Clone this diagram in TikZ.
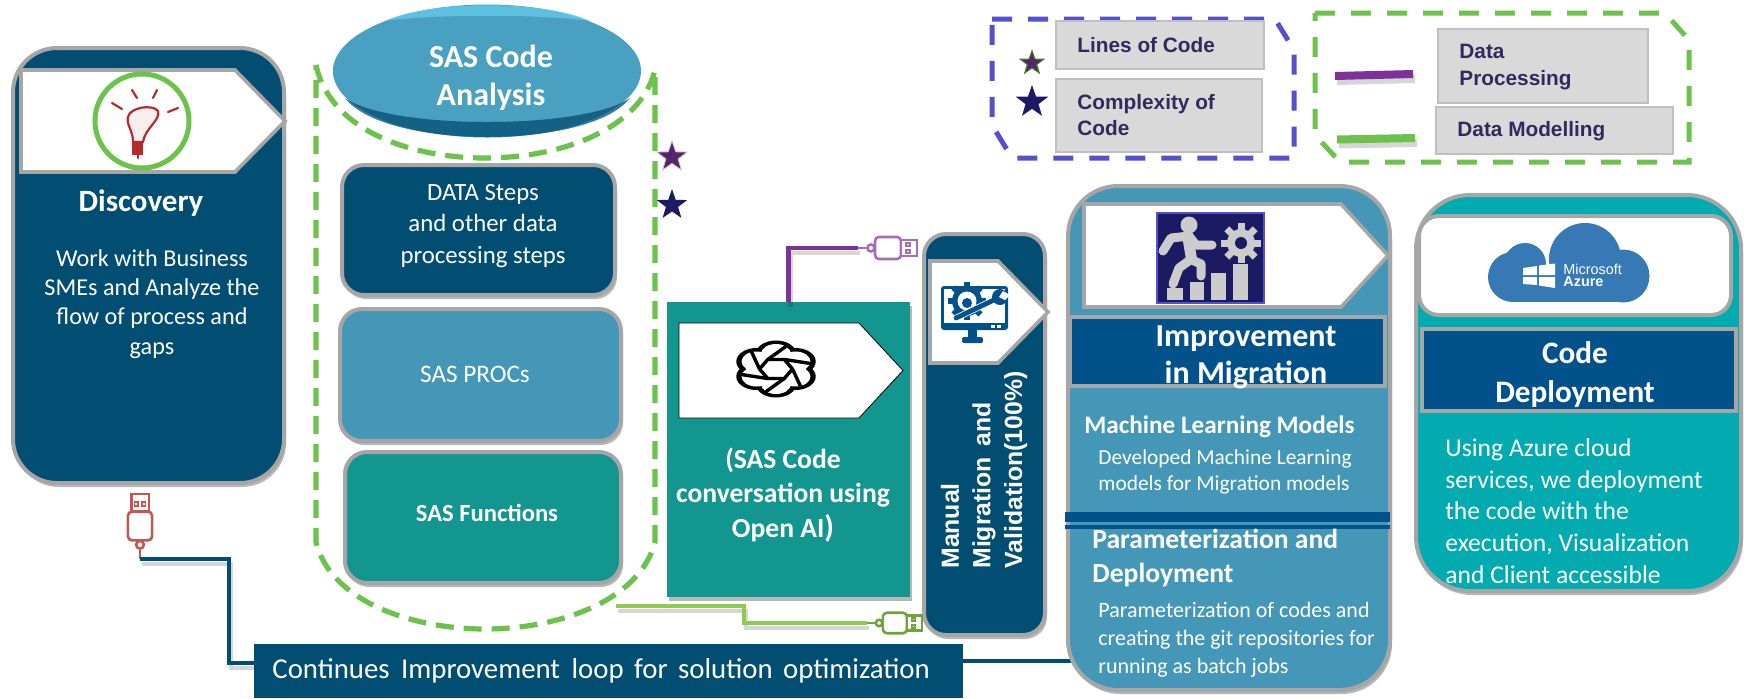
\documentclass[tikz,border=0pt]{standalone}
\usepackage{fontspec}
\setmainfont{Carlito}
\newfontfamily\arialf{Liberation Sans}
\usetikzlibrary{shapes.geometric,shadows,calc}
\definecolor{navy}{HTML}{014E72}
\definecolor{boxblue}{HTML}{4597B8}
\definecolor{ovalblue}{HTML}{4AA0C0}
\definecolor{ovallight}{HTML}{62C6E6}
\definecolor{tealc}{HTML}{13968F}
\definecolor{titleblue}{HTML}{01528A}
\definecolor{cyanc}{HTML}{02ABB0}
\definecolor{edgegray}{HTML}{A6A6A6}
\definecolor{dashgreen}{HTML}{6CC24A}
\definecolor{dashblue}{HTML}{5550D0}
\definecolor{linepurple}{HTML}{7E309B}
\definecolor{linegreen}{HTML}{8CCC4E}
\definecolor{legendtxt}{HTML}{322A5E}
\definecolor{starnavy}{HTML}{1C1A63}
\definecolor{azure}{HTML}{3679B5}
\definecolor{bulbred}{HTML}{B52A2A}
\pgfdeclareradialshading{ovalshade}{\pgfpoint{0bp}{0bp}}{color(0bp)=(ovalblue);color(28bp)=(ovalblue);color(33bp)=(navy!60!boxblue);color(35.5bp)=(navy!90!black);color(50bp)=(navy!90!black)}
\newcommand{\pbox}[6]{%
  \pgfmathsetmacro{\pw}{(#4-#2)*0.5}\pgfmathsetmacro{\ph}{(#5-#3)*0.5}%
  \node[#6,anchor=north west,minimum width=\pw pt,minimum height=\ph pt,inner sep=0pt,outer sep=0pt] (#1) at (#2,#3) {};}
\newcommand{\ptag}[6]{%
  \pgfmathsetmacro{\pm}{(#2+#4)/2}%
  \draw[#6] (#1,#2) -- (#3,#2) -- (#5,\pm) -- (#3,#4) -- (#1,#4) -- cycle;}
\newcommand{\usbicon}[5]{%
  \begin{scope}[shift={(#1,#2)},rotate=#3,scale=#5,draw=#4,line width=1.3pt,fill=white]
    \draw (0,0) -- (10,0);
    \draw[fill=white] (13,0) circle[radius=3.5];
    \draw[fill=white,rounded corners=2pt] (17,-11) rectangle (43,11);
    \draw[fill=white] (43,-8) rectangle (59,8);
    \draw[line width=.9pt] (48,-5) rectangle (52,-2);
    \draw[line width=.9pt] (48,2) rectangle (52,5);
  \end{scope}}
\tikzset{
  x=0.5pt,y=-0.5pt,
  softshadow/.style={drop shadow={shadow xshift=1pt,shadow yshift=-2pt,opacity=.28,fill=black}},
  panel/.style={rectangle,draw=edgegray,line width=2pt,rounded corners=#1},
  panel/.default=11pt,
  tagshape/.style={fill=white,draw=edgegray,line width=1.8pt,line join=miter},
  tagplain/.style={fill=white},
  legendbox/.style={rectangle,fill=black!15,draw=black!25,line width=1pt},
  legendtext/.style={font=\arialf\bfseries\fontsize{10.4pt}{12.8pt}\selectfont,text=legendtxt,align=left,anchor=west,inner sep=0pt},
  whitetext/.style={text=white,align=center,inner sep=0pt},
  leftwhite/.style={text=white,align=left,anchor=west,inner sep=0pt},
  startoken/.style={star,star points=5,star point ratio=2.5,inner sep=0pt},
  canline/.style={draw=dashgreen,line width=2.6pt,dash pattern=on 9pt off 5pt},
  legenddash/.style={line width=2.5pt,dash pattern=on 10pt off 8pt},
  flowline/.style={line width=2.4pt,line join=miter},
  lineshadow/.style={draw=black,opacity=.16,line join=miter,transform canvas={xshift=1pt,yshift=-2.5pt}},
  thinloop/.style={draw=navy,line width=1.8pt,line join=miter},
}
\begin{document}
\begin{tikzpicture}
\useasboundingbox (0,0) rectangle (1750,698);
\fill[white] (0,0) rectangle (1750,698);

% bar and main panels
\pbox{bar}{254}{644}{963}{698}{fill=navy,rectangle}
\node[text=white,anchor=west,inner sep=0pt,font=\fontsize{14.4pt}{16pt}\selectfont] (bartext) at (272,671) {Continues\hspace{2.5pt} Improvement\hspace{2.5pt} loop\hspace{2pt} for\hspace{2pt} solution\hspace{2pt} optimization};

% Discovery
\pbox{disc}{13}{48}{284}{483}{panel=22pt,fill=navy,softshadow}
\ptag{21}{70}{235}{172}{285}{tagshape}
\node[circle,draw=dashgreen,line width=2.5pt,fill=white,minimum size=47pt,inner sep=0pt] (bulbring) at (142,121) {};
\begin{scope}[bulbred,line width=1.1pt,line cap=round]
  \draw (132,90) -- (137,98);
  \draw (157,90) -- (153,98);
  \draw (112,103) -- (122,109);
  \draw (168,112) -- (178,108);
  \draw[fill=bulbred!8] (133,142) .. controls (133,130) and (126,125) .. (128,117) .. controls (130,107) and (153,104) .. (158,111) .. controls (161,120) and (145,128) .. (143,142) -- cycle;
  \fill (132,142) rectangle (143,155);
  \draw[line width=1.4pt] (138,155) -- (138,158);
\end{scope}
\node[whitetext,font=\bfseries\fontsize{15.5pt}{18pt}\selectfont] (disctitle) at (141,203) {Discovery};
\node[whitetext,font=\fontsize{12.1pt}{14.6pt}\selectfont] (discbody) at (152,304) {Work with Business\\SMEs and Analyze the\\flow of process and\\gaps};

% SAS code analysis can
\draw[canline] (316,65) .. controls (330,130) and (410,158) .. (485,158) .. controls (560,158) and (640,130) .. (655,70) -- (655,542) .. controls (640,600) and (560,629) .. (485,629) .. controls (410,629) and (330,600) .. (316,542) -- cycle;
\coordinate (cangreen) at (616,606);
\node[ellipse,minimum width=154pt,minimum height=66.5pt,inner sep=0pt,shading=ovalshade] (oval) at (487,71) {};
\fill[ovallight,opacity=.85] (385,21) .. controls (430,0) and (545,0) .. (590,21) .. controls (545,14) and (430,14) .. (385,21) -- cycle;
\fill[navy,opacity=.75] (345,98) .. controls (385,150) and (590,150) .. (630,98) .. controls (585,130) and (390,130) .. (345,98) -- cycle;
\node[whitetext,font=\bfseries\fontsize{16pt}{19pt}\selectfont] (ovaltext) at (491,78) {SAS Code\\Analysis};
\pbox{dstep}{342}{165}{615}{295}{panel,fill=navy,softshadow}
\node[whitetext,font=\fontsize{12.4pt}{15.6pt}\selectfont] (dsteptext) at (483,226) {DATA Steps\\and other data\\processing steps};
\pbox{procs}{340}{309}{621}{441}{panel,fill=boxblue,softshadow}
\node[whitetext,font=\fontsize{12.6pt}{15pt}\selectfont] (procstext) at (475,374) {SAS PROCs};
\pbox{funcs}{345}{452}{621}{583}{panel,fill=tealc,softshadow}
\node[whitetext,font=\bfseries\fontsize{12.3pt}{15pt}\selectfont] (funcstext) at (487,513) {SAS Functions};
\node[startoken,fill=linepurple!70!black,draw=black!20,line width=.4pt,minimum size=16pt] (starA) at (672,157) {};
\node[startoken,fill=starnavy,minimum size=16pt] (starB) at (672,205) {};

% OpenAI panel
\pbox{openai}{667}{302}{910}{597}{rectangle,fill=tealc,softshadow}
\ptag{679}{323}{859}{418}{903}{tagplain}
\begin{scope}[shift={(776,369)},xscale=1.5]
  \foreach \ang in {30,90,...,330}
    \fill[black] (\ang:15) circle[radius=13.5];
  \foreach \ang in {30,90,...,330}
    \fill[white] (\ang:15) circle[radius=10];
  \fill[white] (0,0) circle[radius=15];
  \draw[black,line width=1.7pt,line join=round] (0:11) -- (60:11) -- (120:11) -- (180:11) -- (240:11) -- (300:11) -- cycle;
  \foreach \ang in {0,60,...,300}
    \draw[black,line width=1.7pt] (\ang:11) -- (\ang+48:25);
\end{scope}
\node[whitetext,font=\bfseries\fontsize{13.8pt}{17.2pt}\selectfont] (openaitext) at (783,495) {(SAS Code\\conversation using\\Open AI{\fontsize{15.5pt}{15pt}\selectfont)}};

% Manual panel
\pbox{manual}{924}{234}{1045}{635}{panel,fill=navy,softshadow}
\ptag{930}{261}{998}{363}{1048}{tagshape}
\begin{scope}[titleblue]
  \fill[rounded corners=1.5pt] (941,286) rectangle (1008,330);
  \fill[white] (944,289) rectangle (1005,323);
  \fill[white] (991,325) rectangle (995,328);
  \fill[white] (997,325) rectangle (1001,328);
  \fill (968,330) rectangle (977,338);
  \fill[rounded corners=1pt] (962,337) rectangle (983,343);
  \foreach \a in {0,45,...,315}
    \fill[shift={(967,301)},rotate=\a] (13,-3) rectangle (19,3);
  \fill (967,301) circle[radius=15];
  \fill[white] (967,301) circle[radius=9.5];
  \fill (967,303) circle[radius=5];
  \draw[white,line width=3.2pt] (956,318) -- (998,298);
  \draw[line width=2.4pt,line cap=round] (956,318) -- (996,299);
  \fill (1000,297) circle[radius=8];
  \fill[white] (1003,291) -- (1010,295) -- (1005,300) -- (999,297) -- cycle;
\end{scope}
\node[text=white,rotate=90,anchor=west,align=left,inner sep=0pt,font=\arialf\bfseries\fontsize{12.4pt}{15.8pt}\selectfont] (manualtext) at (984,569) {Manual\\Migration\hspace{2pt} and\\Validation(100\%)};

% connectors
\coordinate (usbP) at (858,248);
\coordinate (usbG) at (867,623);
\coordinate (usbR) at (140,559);
\coordinate (gElbow) at (744,623);
\coordinate (loopElbow) at (229,559);
\draw[flowline,lineshadow] (openai.north) |- (usbP);
\draw[flowline,draw=linepurple] (openai.north) |- (usbP);
\usbicon{858}{248}{0}{linepurple!70!white}{1}
\draw[flowline,lineshadow] (cangreen) -| (gElbow) -- (usbG);
\draw[flowline,draw=linegreen] (cangreen) -| (gElbow) -- (usbG);
\usbicon{867}{623}{0}{linegreen!80!black}{.93}
\usbicon{140}{559}{90}{bulbred!80!white}{1.1}
\draw[line width=1.8pt,lineshadow] (usbR) -- (loopElbow) |- ([yshift=4pt]bar.west);
\draw[thinloop] (usbR) -- (loopElbow) |- ([yshift=4pt]bar.west);
\draw[thinloop] ([yshift=5pt]bar.east) -- ++(108,0) coordinate (loopEnd);

% Improvement panel
\pbox{imp}{1068}{186}{1390}{690}{panel=25pt,fill=boxblue,softshadow}
\ptag{1084}{204}{1341}{307}{1388}{tagshape}
\pbox{stepsicon}{1157}{213}{1264}{303}{rectangle,fill=starnavy,draw=dashblue,line width=1pt}
\begin{scope}[black!20]
  \fill (1189,225) circle[radius=8.5];
  \draw[line width=4.5pt,line cap=round,line join=round] (1163,251) -- (1171,238) -- (1189,236) -- (1196,245) -- (1212,245);
  \draw[line width=5.5pt,line join=round] (1188,238) -- (1192,262);
  \draw[line width=4.5pt,line cap=round,line join=round] (1190,260) -- (1179,268) -- (1173,284);
  \draw[line width=4.5pt,line cap=round,line join=round] (1192,260) -- (1201,264) -- (1201,276);
  \fill (1167,288) rectangle (1183,300);
  \fill (1190,282) rectangle (1204,300);
  \fill (1211,273) rectangle (1226,300);
  \fill (1233,264) rectangle (1248,300);
  \foreach \a in {0,45,...,315}
    \fill[shift={(1241,243)},rotate=\a] (12,-3.5) rectangle (20,3.5);
  \fill (1241,243) circle[radius=14];
  \fill[starnavy] (1241,243) circle[radius=6];
\end{scope}
\pbox{imptitle}{1070}{317}{1385}{386}{rectangle,fill=titleblue,draw=edgegray,line width=2pt}
\node[whitetext,font=\bfseries\fontsize{16pt}{18.5pt}\selectfont] (imptitletext) at (1246,357) {Improvement\\in Migration};
\node[leftwhite,font=\bfseries\fontsize{12.6pt}{15pt}\selectfont] (mlhead) at (1084,427) {Machine Learning Models};
\node[leftwhite,font=\fontsize{10.7pt}{13pt}\selectfont] (mlbody) at (1098,472) {Developed Machine Learning\\models for Migration models};
\pbox{bandA}{1065}{512}{1390}{522}{rectangle,fill=titleblue}
\pbox{bandB}{1065}{525}{1390}{529}{rectangle,fill=titleblue}
\node[leftwhite,font=\bfseries\fontsize{13.8pt}{17.2pt}\selectfont] (parhead) at (1092,558) {Parameterization and\\Deployment};
\node[leftwhite,font=\fontsize{11pt}{13.9pt}\selectfont] (parbody) at (1098,640) {Parameterization of codes and\\creating the git repositories for\\running as batch jobs};

% Deployment panel
\pbox{dep}{1416}{195}{1741}{591}{panel=27pt,fill=cyanc,softshadow}
\pbox{depwhite}{1419}{216}{1731}{315}{panel=10pt,fill=white}
\begin{scope}[azure]
  \fill (1513,277) circle[radius=25];
  \fill (1525,264) circle[radius=21];
  \fill (1585,259) circle[radius=36];
  \fill (1623,276) circle[radius=26.5];
  \fill (1513,270) rectangle (1625,302);
\end{scope}
\fill[white] (1523,268) -- (1537,266) -- (1537,275) -- (1523,275) -- cycle;
\fill[white] (1539,265.5) -- (1555,263.5) -- (1555,275) -- (1539,275) -- cycle;
\fill[white] (1523,277) -- (1537,277) -- (1537,285) -- (1523,284) -- cycle;
\fill[white] (1539,277) -- (1555,277) -- (1555,288) -- (1539,285.5) -- cycle;
\node[text=white,anchor=west,inner sep=0pt,font=\arialf\fontsize{7.2pt}{8pt}\selectfont] (mstext) at (1563,269) {Microsoft};
\node[text=white,anchor=west,inner sep=0pt,font=\arialf\bfseries\fontsize{7.2pt}{8pt}\selectfont] (aztext) at (1563,282) {Azure};
\pbox{deptitle}{1422}{329}{1736}{411}{rectangle,fill=titleblue,draw=edgegray,line width=2pt}
\node[whitetext,font=\bfseries\fontsize{15.6pt}{19.5pt}\selectfont] (deptitletext) at (1575,374) {Code\\Deployment};
\node[leftwhite,font=\fontsize{12.8pt}{15.8pt}\selectfont] (depbody) at (1445,511) {Using Azure cloud\\services, we deployment\\the code with the\\execution, Visualization\\and Client accessible};

% legends
\draw[legenddash,draw=dashblue] (992,19) -- (1275,19) -- (1294,50) -- (1294,158) -- (1012,158) -- (992,125) -- cycle;
\pbox{locbox}{1056}{21}{1264}{69}{legendbox}
\node[legendtext] (loctext) at (1077,45) {Lines of Code};
\pbox{cplbox}{1056}{79}{1262}{152}{legendbox}
\node[legendtext] (cpltext) at (1077,115) {Complexity of\\Code};
\node[startoken,fill=linepurple!70!black,draw=dashgreen!60!black,line width=.6pt,minimum size=12pt] (legstarA) at (1032,63) {};
\node[startoken,fill=starnavy,minimum size=17pt] (legstarB) at (1032,102) {};
\draw[legenddash,draw=dashgreen] (1315,13) -- (1665,13) -- (1689,40) -- (1689,162) -- (1340,162) -- (1315,135) -- cycle;
\pbox{dpbox}{1438}{29}{1648}{103}{legendbox}
\node[legendtext] (dptext) at (1459,67) {Data\\[.7pt]Processing};
\pbox{dmbox}{1436}{107}{1673}{154}{legendbox}
\node[legendtext] (dmtext) at (1457,131) {Data Modelling};
\coordinate (kpA) at (1335,76);
\coordinate (kpB) at (1413,74);
\coordinate (kgA) at (1337,139.5);
\coordinate (kgB) at (1415,138);
\draw[line width=4pt,lineshadow] (kpA) -- (kpB);
\draw[line width=4pt,draw=linepurple] (kpA) -- (kpB);
\draw[line width=4pt,lineshadow] (kgA) -- (kgB);
\draw[line width=4pt,draw=dashgreen] (kgA) -- (kgB);
\end{tikzpicture}
\end{document}
